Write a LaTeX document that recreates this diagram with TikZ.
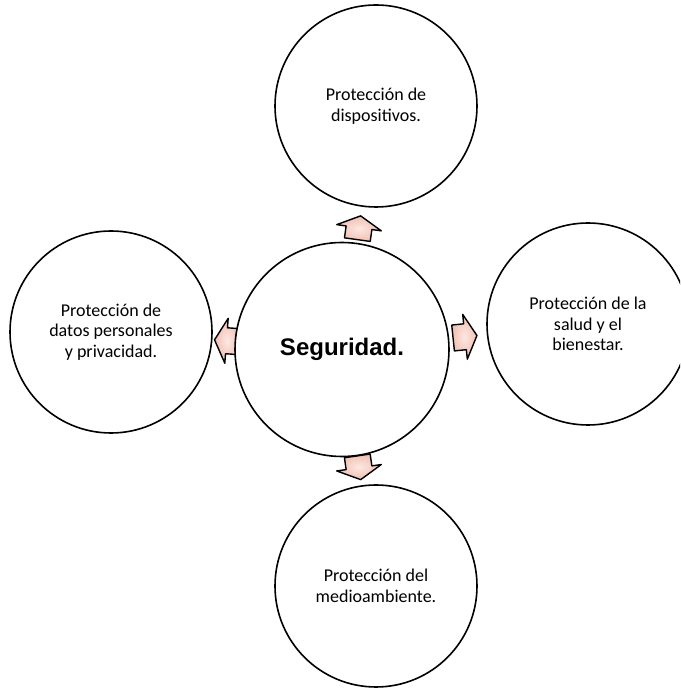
\documentclass[tikz,border=0pt]{standalone}
\usepackage{fontspec}
\newfontfamily\carlito{Carlito}
\newfontfamily\libsans{Liberation Sans}
\usetikzlibrary{calc}

\definecolor{arrowpink}{RGB}{241,190,177}
\definecolor{arrowlight}{RGB}{252,232,226}

\tikzset{
  bubble/.style={circle, draw=black, line width=1.6pt, fill=white, inner sep=0pt,
    minimum size=202pt, align=center, text=black,
    font=\carlito\fontsize{18}{20.5}\selectfont},
  hub/.style={bubble, minimum size=214pt, font=\libsans\bfseries\fontsize{24}{28}\selectfont},
  arrowbody/.style={draw=black, line width=1.4pt, line join=round,
    shading=radial, inner color=arrowlight, outer color=arrowpink},
  pics/blockarrow/.style={code={
    \path[arrowbody] (-12,-13) -- (0,-13) -- (0,-22.5) -- (12,0) -- (0,22.5)
      -- (0,13) -- (-12,13) -- cycle;
  }}
}

\begin{document}
\begin{tikzpicture}[x=1pt,y=1pt]
  \clip (0,0) rectangle (680,688);
  \fill[white] (0,0) rectangle (680,688);

  % centres of the five circles
  \coordinate (pc) at (342,338.5);
  \coordinate (pt) at (376,582);
  \coordinate (pr) at (588,364);
  \coordinate (pb) at (376,102);
  \coordinate (pl) at (111,356);

  % block arrows pointing from the hub towards each outer circle
  \pic[rotate=82.05]  at ($(pc)!0.5!(pt)$) {blockarrow};
  \pic[rotate=5.92]   at ($(pc)!0.5!(pr)$) {blockarrow};
  \pic[rotate=175.67] at ($(pc)!0.5!(pl)$) {blockarrow};
  \pic[rotate=-81.82] at ($(pc)!0.5!(pb)$) {blockarrow};

  % circles
  \node[hub]    (hub)   at (pc) {Seguridad.};
  \node[bubble] (top)   at (pt) {Protección de\\dispositivos.};
  \node[bubble] (right) at (pr) {Protección de la\\salud y el\\bienestar.};
  \node[bubble] (bot)   at (pb) {Protección del\\medioambiente.};
  \node[bubble] (left)  at (pl) {Protección de\\datos personales\\y privacidad.};
\end{tikzpicture}
\end{document}
